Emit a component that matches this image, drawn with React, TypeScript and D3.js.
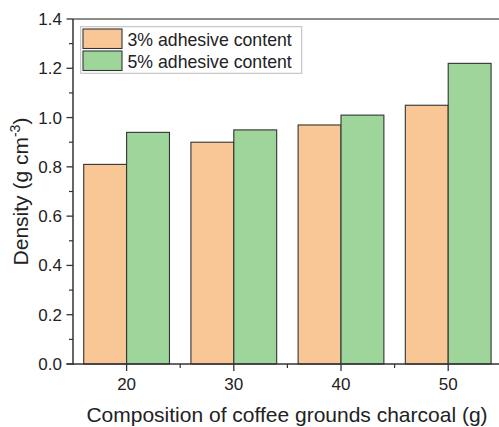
import React from "react";
import * as d3 from "d3";

const categories = [20, 30, 40, 50];
const series3 = [0.81, 0.9, 0.97, 1.05];
const series5 = [0.94, 0.95, 1.01, 1.22];
const seriesNames = ["3% adhesive content", "5% adhesive content"];
const yTicks = [0, 0.2, 0.4, 0.6, 0.8, 1.0, 1.2, 1.4];
const yMinor = [0.1, 0.3, 0.5, 0.7, 0.9, 1.1, 1.3];
const xMinor = [25, 35, 45];

const W = 499;
const H = 427;
const FONT = "Arial, 'Liberation Sans', Helvetica, sans-serif";
const ORANGE = "#F9C696";
const GREEN = "#9DD59B";

export default function App() {
  const x = d3.scaleLinear().domain([15, 55]).range([73, 501.8]);
  const y = d3.scaleLinear().domain([0, 1.4]).range([364, 19]);
  const bw = 4;
  const axisColor = "#333";

  return (
    <svg
      width={W}
      height={H}
      style={{ position: "absolute", left: 0, top: 0, background: "#fff" }}
      fontFamily={FONT}
    >
      {/* bars */}
      {categories.map((c, i) => (
        <g key={c}>
          <rect
            x={x(c - bw)}
            y={y(series3[i])}
            width={x(c) - x(c - bw)}
            height={y(0) - y(series3[i])}
            fill={ORANGE}
            stroke="#333"
            strokeWidth={1.1}
          />
          <rect
            x={x(c)}
            y={y(series5[i])}
            width={x(c + bw) - x(c)}
            height={y(0) - y(series5[i])}
            fill={GREEN}
            stroke="#333"
            strokeWidth={1.1}
          />
        </g>
      ))}

      {/* top frame */}
      <line x1={x(15)} x2={W} y1={y(1.4)} y2={y(1.4)} stroke="#666" strokeWidth={1.5} />

      {/* y axis */}
      <line x1={x(15)} x2={x(15)} y1={y(1.4)} y2={y(0) + 1} stroke={axisColor} strokeWidth={1.5} />
      {yTicks.map((t) => (
        <g key={t}>
          <line x1={x(15) - 6.5} x2={x(15)} y1={y(t)} y2={y(t)} stroke={axisColor} strokeWidth={1.3} />
          <text
            x={62}
            y={y(t) + 6}
            textAnchor="end"
            fontSize={17}
            fill="#222"
          >
            {t.toFixed(1)}
          </text>
        </g>
      ))}
      {yMinor.map((t) => (
        <line key={t} x1={x(15) - 4} x2={x(15)} y1={y(t)} y2={y(t)} stroke={axisColor} strokeWidth={1.2} />
      ))}

      {/* x axis */}
      <line x1={x(15) - 6.5} x2={W} y1={y(0)} y2={y(0)} stroke={axisColor} strokeWidth={1.5} />
      {categories.map((c) => (
        <g key={c}>
          <line x1={x(c)} x2={x(c)} y1={y(0)} y2={y(0) + 7} stroke={axisColor} strokeWidth={1.3} />
          <text x={x(c)} y={390} textAnchor="middle" fontSize={17} fill="#222">
            {c}
          </text>
        </g>
      ))}
      {xMinor.map((c) => (
        <line key={c} x1={x(c)} x2={x(c)} y1={y(0)} y2={y(0) + 4} stroke={axisColor} strokeWidth={1.2} />
      ))}

      {/* axis titles */}
      <text x={287} y={422} textAnchor="middle" fontSize={21} fill="#222">
        Composition of coffee grounds charcoal (g)
      </text>
      <text
        transform={`translate(28, ${(y(0) + y(1.4)) / 2}) rotate(-90)`}
        textAnchor="middle"
        fontSize={21}
        fill="#222"
      >
        Density (g cm<tspan dy={-8} fontSize={14}>-3</tspan>
        <tspan dy={8}>)</tspan>
      </text>

      {/* legend */}
      <rect x={80.7} y={26.7} width={221} height={46.6} fill="#fff" stroke="#bbb" strokeWidth={1} />
      {seriesNames.map((name, i) => (
        <g key={name}>
          <rect
            x={83}
            y={29 + i * 22}
            width={39}
            height={19.5}
            fill={i === 0 ? ORANGE : GREEN}
            stroke="#333"
            strokeWidth={1.1}
          />
          <text x={127.5} y={45.5 + i * 22} fontSize={17.7} fill="#222">
            {name}
          </text>
        </g>
      ))}
    </svg>
  );
}
